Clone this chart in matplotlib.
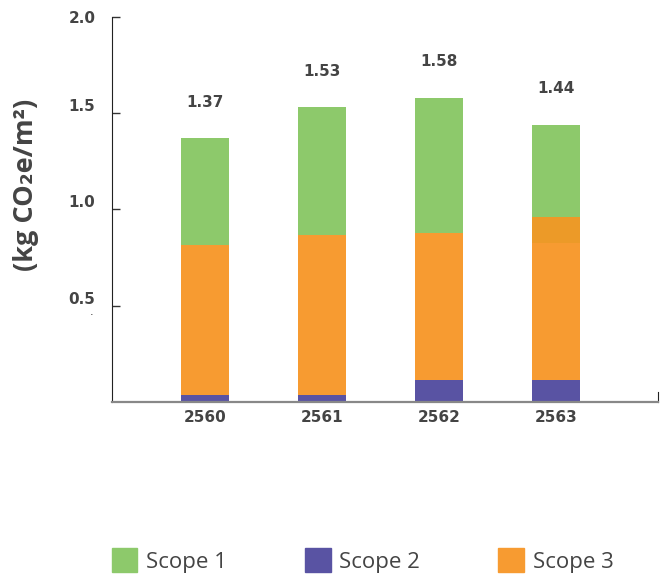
import matplotlib.pyplot as plt
import matplotlib.transforms as mtransforms
from matplotlib.patches import Patch
import numpy as np

years = ['2560', '2561', '2562', '2563']
totals = [1.37, 1.53, 1.58, 1.44]
scope2 = [0.036, 0.036, 0.114, 0.114]
scope3 = [0.78, 0.83, 0.764, 0.712]
scope3_upper = [0.0, 0.0, 0.0, 0.135]
scope1 = [t - a - b - c for t, a, b, c in zip(totals, scope2, scope3, scope3_upper)]

GREEN = '#8DC96B'
PURPLE = '#5953A3'
ORANGE = '#F79B31'
ORANGE_DARK = '#EC9A28'
TEXT = '#444444'

fig = plt.figure(figsize=(6.66, 5.78), dpi=100)
ax = fig.add_axes([0.1682, 0.3045, 0.8198, 0.6661])

x = np.arange(len(years))
w = 0.41
bottom = np.zeros(len(years))
ax.bar(x, scope2, w, bottom=bottom, color=PURPLE)
bottom += scope2
ax.bar(x, scope3, w, bottom=bottom, color=ORANGE)
bottom += scope3
ax.bar(x, scope3_upper, w, bottom=bottom, color=ORANGE_DARK)
bottom += scope3_upper
ax.bar(x, scope1, w, bottom=bottom, color=GREEN)

for xi, t in zip(x, totals):
    ax.annotate(f'{t:.2f}', (xi, t), xytext=(0, 26), textcoords='offset points',
                ha='center', va='center', fontsize=11, fontweight='bold', color=TEXT)

ax.set_xlim(-0.795, 3.87)
ax.set_ylim(0, 2.0)
ax.set_xticks(x)
ax.set_xticklabels(years, fontsize=11, fontweight='bold', color=TEXT)
ax.set_yticks([0.5, 1.0, 1.5, 2.0])
ax.set_yticklabels(['0.5', '1.0', '1.5', '2.0'], fontsize=11, fontweight='bold', color=TEXT)
ax.tick_params(axis='x', length=0, pad=6)
ax.tick_params(axis='y', direction='in', length=6, width=1, color='#333333', pad=12)

# y labels sit a little above their ticks
lift = mtransforms.ScaledTranslation(0, 8 / 100, fig.dpi_scale_trans)
for lab in ax.get_yticklabels()[:-1]:
    lab.set_transform(lab.get_transform() + lift)

ax.spines['top'].set_visible(False)
ax.spines['left'].set_color('#222222')
ax.spines['bottom'].set_color('#888888')
ax.spines['bottom'].set_linewidth(1.6)
ax.spines['right'].set_bounds(0, 0.05)
ax.spines['right'].set_color('#222222')

fig.text(0.039, 0.68, '(kg CO₂e/m²)', rotation=90, ha='center', va='center',
         fontsize=19.5, fontweight='bold', color=TEXT, family=['Open Sans', 'DejaVu Sans'])
fig.text(0.137, 0.452, '.', ha='center', va='bottom', fontsize=8, color='#222222')

handles = [Patch(color=GREEN), Patch(color=PURPLE), Patch(color=ORANGE)]
fig.legend(handles, ['Scope 1', 'Scope 2', 'Scope 3'], ncol=3, frameon=False,
           loc='lower left', bbox_to_anchor=(0.148, -0.014),
           prop={'family': 'Open Sans', 'size': 16}, labelcolor=TEXT,
           handlelength=1.15, handleheight=1.3, handletextpad=0.4,
           columnspacing=3.5, borderaxespad=0.2)

fig.savefig('out.png', dpi=100)
